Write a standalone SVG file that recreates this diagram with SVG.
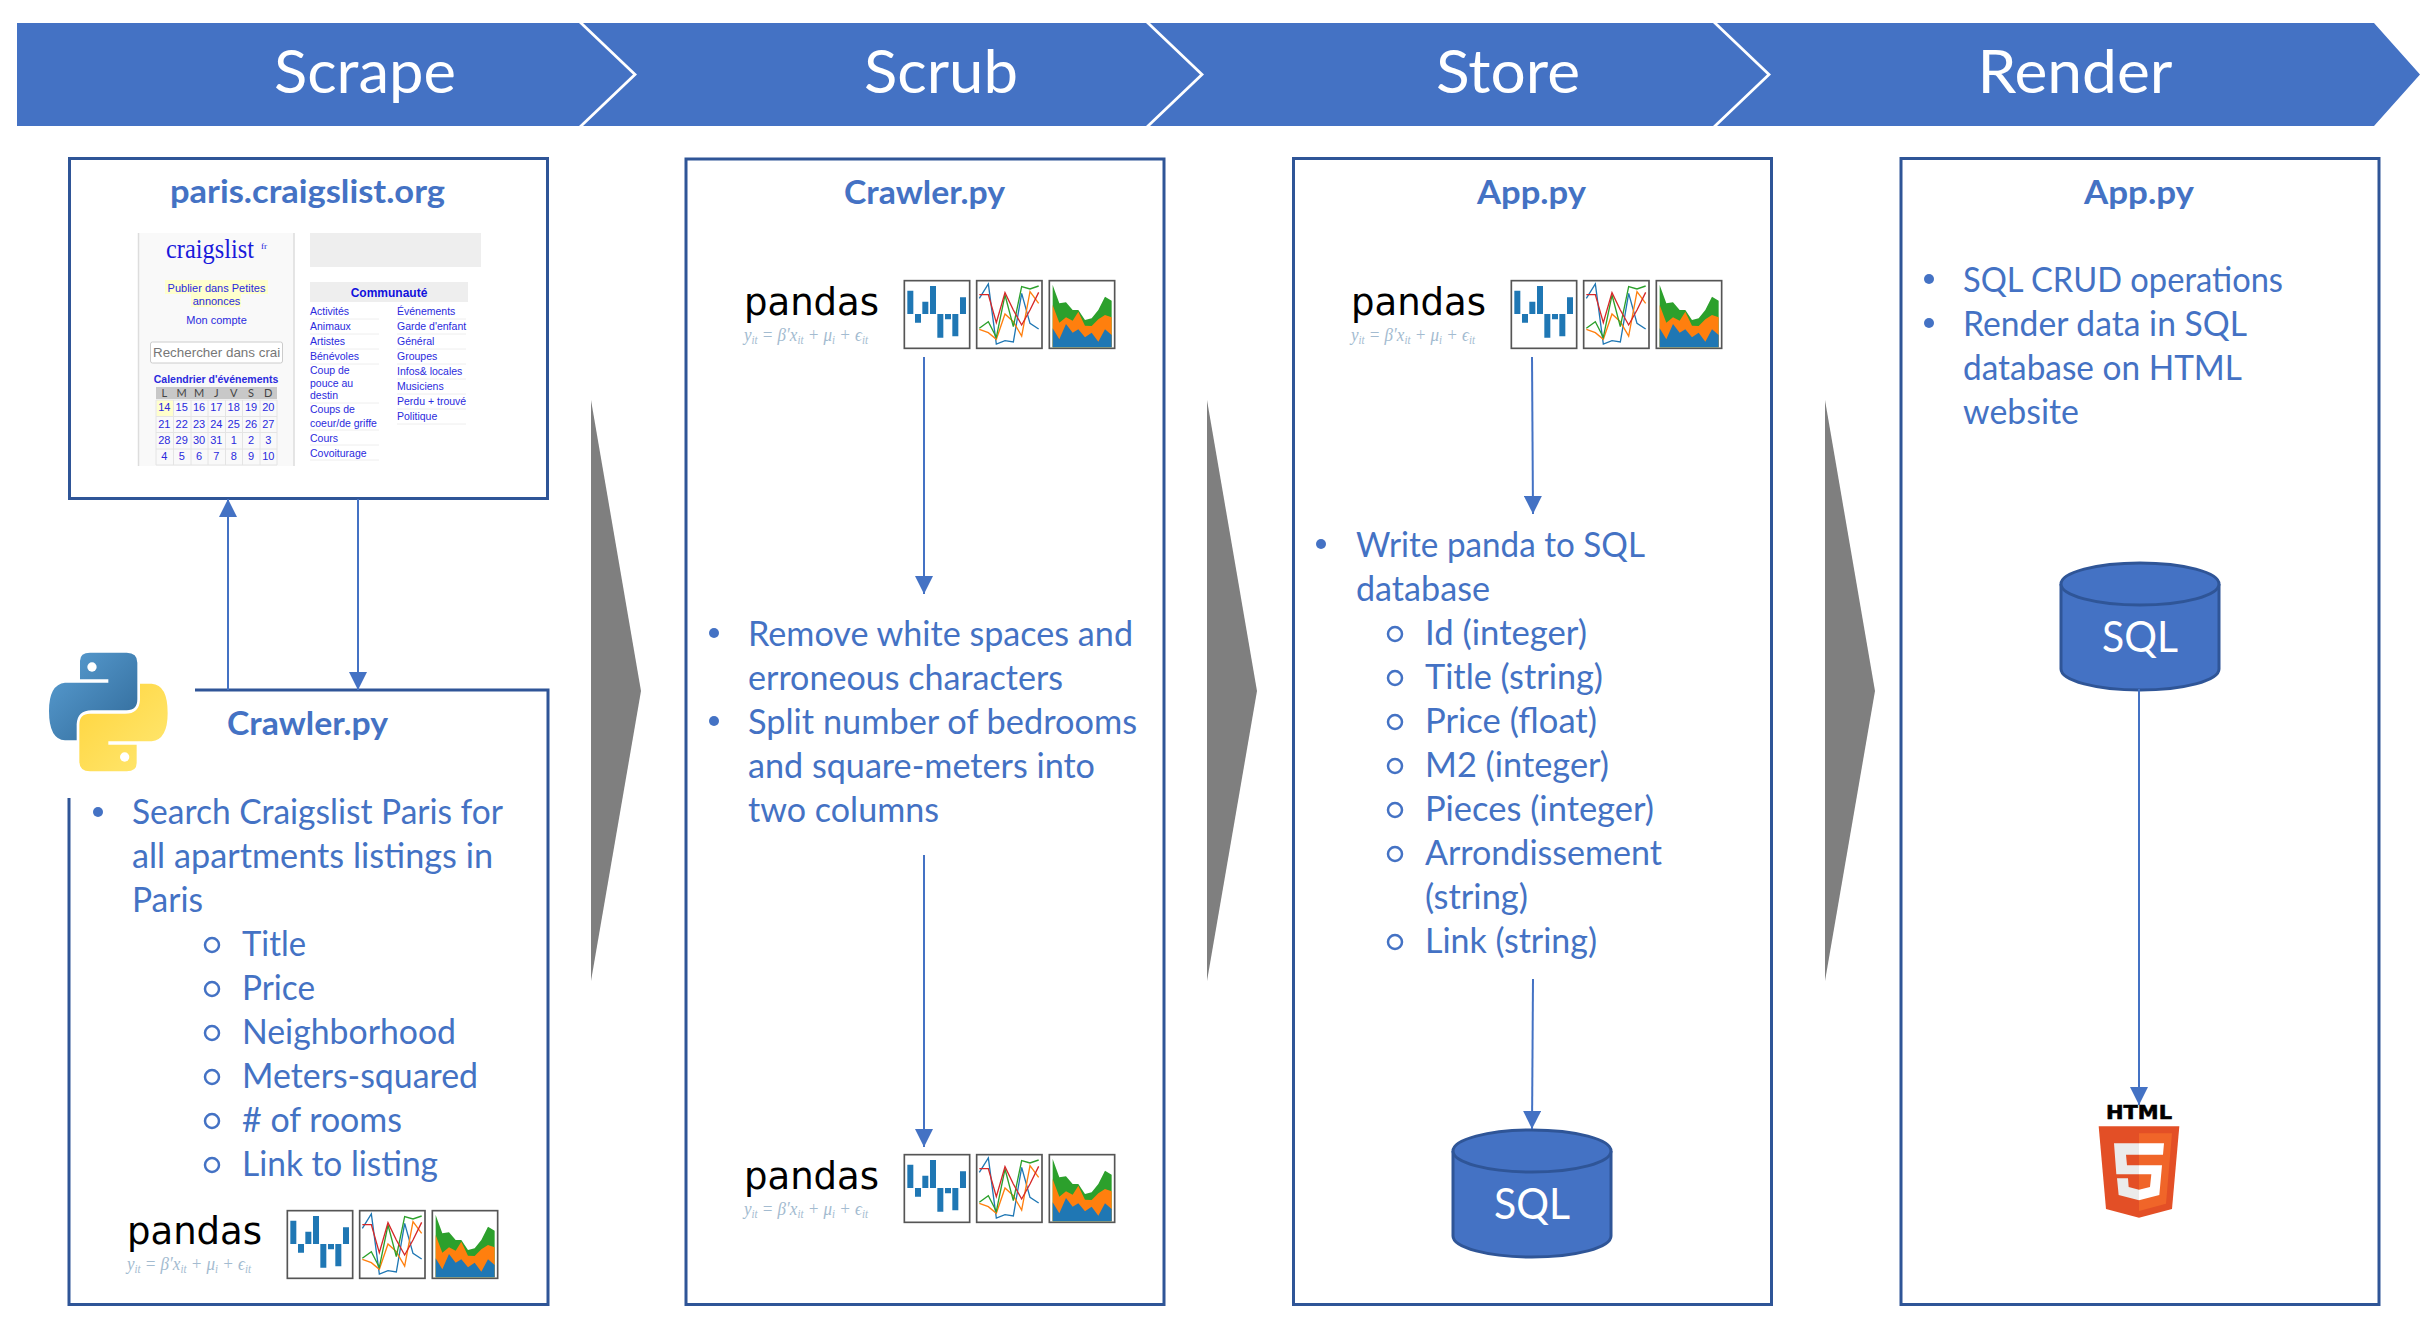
<svg xmlns="http://www.w3.org/2000/svg" xmlns:xlink="http://www.w3.org/1999/xlink" width="2433" height="1337" viewBox="0 0 2433 1337">
<style>
text{font-family:"Lato","Open Sans","Liberation Sans",sans-serif}
.hd{fill:#fff;font-size:60px;text-anchor:middle}
.box{fill:#fff;stroke:#2F5597;stroke-width:3}
.ln{fill:none;stroke:#2F5597;stroke-width:3}
.tt{fill:#4472C4;font-size:33px;font-weight:700}
.li{fill:#4472C4;font-size:34px}
.bu{fill:#4472C4}
.ci{fill:none;stroke:#4472C4;stroke-width:2.5}
.cn{fill:none;stroke:#4472C4;stroke-width:2}
.ch{fill:#4472C4}
.gt{fill:#7F7F7F}
.pd{fill:#000;font-family:"DejaVu Sans",sans-serif;font-size:37px}
.fm{fill:#A3BBD0;font-family:"Liberation Serif",serif;font-size:19px;font-style:italic}
.fm tspan.s{font-size:12px}
.cy{fill:#4472C4;stroke:#2F5597;stroke-width:3}
.sq{fill:#fff;font-size:43px;text-anchor:middle}
.cl{font-family:"Liberation Sans",sans-serif;fill:#2A2ADD;font-size:10.5px}
.cd{font-family:"Liberation Sans",sans-serif;fill:#2A2ADD;font-size:11px;text-anchor:middle}
.cr{fill:none;stroke:#E4E4E4;stroke-width:1}
.sq2{fill:none;stroke:#555;stroke-width:1.6}
</style>
<defs>
<marker id="ah" markerUnits="userSpaceOnUse" markerWidth="18" markerHeight="18" refX="18" refY="9" orient="auto"><path d="M0,0L18,9L0,18Z" fill="#4472C4"/></marker>
<linearGradient id="pyb" x1="0" y1="0" x2="1" y2="1"><stop offset="0" stop-color="#5A9FD4"/><stop offset="1" stop-color="#306998"/></linearGradient>
<linearGradient id="pyy" x1="0" y1="0" x2="1" y2="1"><stop offset="0" stop-color="#FFE873"/><stop offset="1" stop-color="#FFD43B"/></linearGradient>
<clipPath id="sc"><rect x="151" y="343" width="129" height="19"/></clipPath>
<g id="charts" transform="translate(720 260) scale(.33333)">
<rect class="sq2" style="stroke-width:5" x="553" y="62" width="196" height="203" fill="#fff"/>
<rect class="sq2" style="stroke-width:5" x="770" y="62" width="196" height="203" fill="#fff"/>
<rect class="sq2" style="stroke-width:5" x="988" y="62" width="196" height="203" fill="#fff"/>
<path fill="#1F77B4" d="M562,92h18v70h-18zM585,162h18v26h-18zM607,125h18v37h-18zM630,78h18v84h-18zM652,162h18v71h-18zM675,162h18v16h-18zM697,162h18v67h-18zM720,112h18v50h-18z"/>
<g fill="none" stroke-width="4">
<polyline stroke="#1F77B4" points="778,115 805,72 829,252 855,242 880,246 905,100 930,190 956,207"/>
<polyline stroke="#FF7F0E" points="778,208 805,218 829,238 855,162 880,185 905,228 930,95 956,130"/>
<polyline stroke="#2CA02C" points="778,205 805,185 829,232 855,105 880,200 905,80 930,87 956,78"/>
<polyline stroke="#D62728" points="778,104 805,104 829,188 855,98 880,150 905,195 930,150 956,97"/>
</g>
<polygon fill="#2CA02C" points="998,75 1018,130 1038,127 1058,150 1075,150 1095,180 1115,175 1135,150 1155,110 1175,122 1175,262 998,262"/>
<polygon fill="#FF7F0E" points="998,135 1018,188 1038,172 1058,182 1075,155 1095,197 1115,198 1135,178 1155,165 1175,172 1175,262 998,262"/>
<polygon fill="#1F77B4" points="998,205 1018,238 1038,192 1058,218 1075,208 1095,232 1115,218 1135,245 1155,208 1175,225 1175,262 998,262"/>
</g>
<g id="cyl">
<path class="cy" d="M-79,0V85A79,21 0 0 0 79,85V0"/>
<ellipse class="cy" cx="0" cy="0" rx="79" ry="21"/>
</g>
</defs>
<rect width="2433" height="1337" fill="#fff"/>

<g id="stage-scrape"><polygon class="ch" points="17,23 579,23 633,74.500 579,126 17,126"/><text class="hd" x="365" y="93" textLength="182" lengthAdjust="spacingAndGlyphs">Scrape</text></g>
<g id="stage-scrub"><polygon class="ch" points="583,23 1146,23 1200,74.500 1146,126 583,126 637,74.500"/><text class="hd" x="941" y="93" textLength="154" lengthAdjust="spacingAndGlyphs">Scrub</text></g>
<g id="stage-store"><polygon class="ch" points="1150,23 1713,23 1767,74.500 1713,126 1150,126 1204,74.500"/><text class="hd" x="1508" y="93" textLength="144" lengthAdjust="spacingAndGlyphs">Store</text></g>
<g id="stage-render"><polygon class="ch" points="1717,23 2374,23 2420,74.500 2374,126 1717,126 1771,74.500"/><text class="hd" x="2075" y="93" textLength="195" lengthAdjust="spacingAndGlyphs">Render</text></g>

<g id="gray-arrow-1"><polygon class="gt" points="591,400 641,691 591,981"/></g>
<g id="gray-arrow-2"><polygon class="gt" points="1207,400 1257,691 1207,981"/></g>
<g id="gray-arrow-3"><polygon class="gt" points="1825,400 1875,691 1825,981"/></g>

<g id="node-craigslist">
<rect class="box" x="69.500" y="158.500" width="478" height="340"/>
<text class="tt" x="170" y="203" textLength="275" lengthAdjust="spacingAndGlyphs">paris.craigslist.org</text>
<g id="craigslist-shot">
<rect x="138" y="233" width="156" height="233" fill="#F9F9F9"/>
<path d="M138.500,233V466M294,233V466" stroke="#DDD" stroke-width="1.500"/>
<text x="166" y="258" fill="#1A1ADB" font-size="27" textLength="88" lengthAdjust="spacingAndGlyphs" style="font-family:'Liberation Serif',serif">craigslist</text>
<text x="261" y="249" fill="#1A1ADB" font-size="9" style="font-family:'Liberation Serif',serif">fr</text>
<rect x="165" y="280" width="103" height="14" fill="#FFFFCC"/><rect x="191" y="294" width="50" height="13" fill="#FFFFCC"/>
<text class="cd" x="216.500" y="292">Publier dans Petites</text>
<text class="cd" x="216.500" y="305">annonces</text>
<text class="cd" x="216.500" y="324">Mon compte</text>
<rect x="150.500" y="342" width="132" height="21" rx="2" fill="#fff" stroke="#CCC"/>
<text x="153" y="357" fill="#777" font-size="13.400" clip-path="url(#sc)" style="font-family:'Liberation Sans',sans-serif">Rechercher dans craigslist</text>
<text class="cd" x="216" y="383" fill="#1111DD" style="font-size:10.500px;font-weight:700">Calendrier d'événements</text>
<rect x="156" y="387" width="121" height="12" fill="#C8C8C8"/>
<rect x="156.500" y="400" width="17" height="16" fill="#FFFFCC"/>
<path class="cr" d="M156,400H277M156,416.500H277M156,432.500H277M156,449H277M156,465H277M156,400V465M173.500,400V465M191,400V465M208,400V465M225.500,400V465M242.500,400V465M260,400V465M277,400V465"/>
<g class="cd"><text x="164.300" y="397" style="fill:#444">L</text><text x="181.700" y="397" style="fill:#444">M</text><text x="199" y="397" style="fill:#444">M</text><text x="216.300" y="397" style="fill:#444">J</text><text x="233.700" y="397" style="fill:#444">V</text><text x="251" y="397" style="fill:#444">S</text><text x="268.300" y="397" style="fill:#444">D</text></g>
<text class="cd" x="164.300" y="411">14</text><text class="cd" x="181.700" y="411">15</text><text class="cd" x="199" y="411">16</text><text class="cd" x="216.300" y="411">17</text><text class="cd" x="233.700" y="411">18</text><text class="cd" x="251" y="411">19</text><text class="cd" x="268.300" y="411">20</text>
<text class="cd" x="164.300" y="428">21</text><text class="cd" x="181.700" y="428">22</text><text class="cd" x="199" y="428">23</text><text class="cd" x="216.300" y="428">24</text><text class="cd" x="233.700" y="428">25</text><text class="cd" x="251" y="428">26</text><text class="cd" x="268.300" y="428">27</text>
<text class="cd" x="164.300" y="444">28</text><text class="cd" x="181.700" y="444">29</text><text class="cd" x="199" y="444">30</text><text class="cd" x="216.300" y="444">31</text><text class="cd" x="233.700" y="444">1</text><text class="cd" x="251" y="444">2</text><text class="cd" x="268.300" y="444">3</text>
<text class="cd" x="164.300" y="460">4</text><text class="cd" x="181.700" y="460">5</text><text class="cd" x="199" y="460">6</text><text class="cd" x="216.300" y="460">7</text><text class="cd" x="233.700" y="460">8</text><text class="cd" x="251" y="460">9</text><text class="cd" x="268.300" y="460">10</text>
<rect x="310" y="233" width="171" height="34" fill="#EEE"/>
<rect x="310" y="282" width="158" height="20" fill="#EEE"/>
<text x="389" y="297" fill="#1111DD" text-anchor="middle" style="font-family:'Liberation Sans',sans-serif;font-size:12px;font-weight:700">Communauté</text>
<path class="cr" style="stroke:#EEE" d="M310,319H379M310,334H379M310,349H379M310,364H379M310,403H379M310,430H379M310,445H379M310,460H379M397,319H466M397,334H466M397,349H466M397,364H466M397,379H466M397,394H466M397,409H466M397,424H466"/>
<text class="cl" x="310" y="315">Activités</text><text class="cl" x="310" y="330">Animaux</text><text class="cl" x="310" y="345">Artistes</text><text class="cl" x="310" y="360">Bénévoles</text><text class="cl" x="310" y="374">Coup de</text><text class="cl" x="310" y="387">pouce au</text><text class="cl" x="310" y="399">destin</text><text class="cl" x="310" y="413">Coups de</text><text class="cl" x="310" y="427">coeur/de griffe</text><text class="cl" x="310" y="442">Cours</text><text class="cl" x="310" y="457">Covoiturage</text>
<text class="cl" x="397" y="315">Événements</text><text class="cl" x="397" y="330">Garde d'enfant</text><text class="cl" x="397" y="345">Général</text><text class="cl" x="397" y="360">Groupes</text><text class="cl" x="397" y="375">Infos&amp; locales</text><text class="cl" x="397" y="390">Musiciens</text><text class="cl" x="397" y="405">Perdu + trouvé</text><text class="cl" x="397" y="420">Politique</text>
</g>
</g>

<g id="node-crawler">
<path class="ln" d="M195,690H548V1304.500H69V798"/>
<g id="python-logo" transform="translate(30 631) scale(.33333)">
<path fill="url(#pyb)" d="M150,90Q150,65 180,65H290Q322,65 322,95V205Q322,238 290,238H185Q142,238 140,280V328H105Q57,325 57,240Q57,160 105,155H235V145H150Z"/>
<circle cx="186" cy="108" r="14" fill="#fff"/>
<path fill="url(#pyy)" transform="rotate(180 235 243)" d="M150,90Q150,65 180,65H290Q322,65 322,95V205Q322,238 290,238H185Q142,238 140,280V328H105Q57,325 57,240Q57,160 105,155H235V145H150Z"/>
<circle cx="284" cy="378" r="14" fill="#fff"/>
</g>
<text class="tt" x="227" y="735" textLength="161" lengthAdjust="spacingAndGlyphs">Crawler.py</text>
<circle class="bu" cx="98" cy="812" r="5"/>
<text class="li" x="132" y="824" textLength="371" lengthAdjust="spacingAndGlyphs">Search Craigslist Paris for</text>
<text class="li" x="132" y="868" textLength="361" lengthAdjust="spacingAndGlyphs">all apartments listings in</text>
<text class="li" x="132" y="912" textLength="71" lengthAdjust="spacingAndGlyphs">Paris</text>
<circle class="ci" cx="212" cy="945" r="7"/><text class="li" x="242" y="956" textLength="64" lengthAdjust="spacingAndGlyphs">Title</text>
<circle class="ci" cx="212" cy="989" r="7"/><text class="li" x="242" y="1000" textLength="73" lengthAdjust="spacingAndGlyphs">Price</text>
<circle class="ci" cx="212" cy="1033" r="7"/><text class="li" x="242" y="1044" textLength="214" lengthAdjust="spacingAndGlyphs">Neighborhood</text>
<circle class="ci" cx="212" cy="1077" r="7"/><text class="li" x="242" y="1088" textLength="236" lengthAdjust="spacingAndGlyphs">Meters-squared</text>
<circle class="ci" cx="212" cy="1121" r="7"/><text class="li" x="242" y="1132" textLength="160" lengthAdjust="spacingAndGlyphs"># of rooms</text>
<circle class="ci" cx="212" cy="1165" r="7"/><text class="li" x="242" y="1176" textLength="196" lengthAdjust="spacingAndGlyphs">Link to listing</text>
<g id="pandas-1"><use xlink:href="#charts" href="#charts" transform="translate(-617 930)"/><text class="pd" x="127" y="1244" textLength="135">pandas</text><text class="fm" x="127" y="1270" textLength="124" lengthAdjust="spacingAndGlyphs">y<tspan class="s" dy="3">it</tspan><tspan dy="-3"> = β′x</tspan><tspan class="s" dy="3">it</tspan><tspan dy="-3"> + μ</tspan><tspan class="s" dy="3">i</tspan><tspan dy="-3"> + ϵ</tspan><tspan class="s" dy="3">it</tspan></text></g>
</g>

<g id="node-scrub">
<rect class="box" x="686" y="159" width="478" height="1145.500"/>
<text class="tt" x="844" y="204" textLength="161" lengthAdjust="spacingAndGlyphs">Crawler.py</text>
<g id="pandas-2"><use xlink:href="#charts" href="#charts"/><text class="pd" x="744" y="315" textLength="135">pandas</text><text class="fm" x="744" y="341" textLength="124" lengthAdjust="spacingAndGlyphs">y<tspan class="s" dy="3">it</tspan><tspan dy="-3"> = β′x</tspan><tspan class="s" dy="3">it</tspan><tspan dy="-3"> + μ</tspan><tspan class="s" dy="3">i</tspan><tspan dy="-3"> + ϵ</tspan><tspan class="s" dy="3">it</tspan></text></g>
<circle class="bu" cx="714" cy="633" r="5"/>
<text class="li" x="748" y="646" textLength="385" lengthAdjust="spacingAndGlyphs">Remove white spaces and</text>
<text class="li" x="748" y="690" textLength="315" lengthAdjust="spacingAndGlyphs">erroneous characters</text>
<circle class="bu" cx="714" cy="721" r="5"/>
<text class="li" x="748" y="734" textLength="389" lengthAdjust="spacingAndGlyphs">Split number of bedrooms</text>
<text class="li" x="748" y="778" textLength="347" lengthAdjust="spacingAndGlyphs">and square-meters into</text>
<text class="li" x="748" y="822" textLength="191" lengthAdjust="spacingAndGlyphs">two columns</text>
<g id="pandas-3"><use xlink:href="#charts" href="#charts" transform="translate(0 874)"/><text class="pd" x="744" y="1189" textLength="135">pandas</text><text class="fm" x="744" y="1215" textLength="124" lengthAdjust="spacingAndGlyphs">y<tspan class="s" dy="3">it</tspan><tspan dy="-3"> = β′x</tspan><tspan class="s" dy="3">it</tspan><tspan dy="-3"> + μ</tspan><tspan class="s" dy="3">i</tspan><tspan dy="-3"> + ϵ</tspan><tspan class="s" dy="3">it</tspan></text></g>
</g>

<g id="node-store">
<rect class="box" x="1293.500" y="158.500" width="478" height="1146"/>
<text class="tt" x="1477" y="204" textLength="109" lengthAdjust="spacingAndGlyphs">App.py</text>
<g id="pandas-4"><use xlink:href="#charts" href="#charts" transform="translate(607 0)"/><text class="pd" x="1351" y="315" textLength="135">pandas</text><text class="fm" x="1351" y="341" textLength="124" lengthAdjust="spacingAndGlyphs">y<tspan class="s" dy="3">it</tspan><tspan dy="-3"> = β′x</tspan><tspan class="s" dy="3">it</tspan><tspan dy="-3"> + μ</tspan><tspan class="s" dy="3">i</tspan><tspan dy="-3"> + ϵ</tspan><tspan class="s" dy="3">it</tspan></text></g>
<circle class="bu" cx="1321" cy="544" r="5"/>
<text class="li" x="1356" y="557" textLength="289" lengthAdjust="spacingAndGlyphs">Write panda to SQL</text>
<text class="li" x="1356" y="601" textLength="134" lengthAdjust="spacingAndGlyphs">database</text>
<circle class="ci" cx="1395" cy="634" r="7"/><text class="li" x="1425" y="645" textLength="162" lengthAdjust="spacingAndGlyphs">Id (integer)</text>
<circle class="ci" cx="1395" cy="678" r="7"/><text class="li" x="1425" y="689" textLength="178" lengthAdjust="spacingAndGlyphs">Title (string)</text>
<circle class="ci" cx="1395" cy="722" r="7"/><text class="li" x="1425" y="733" textLength="172" lengthAdjust="spacingAndGlyphs">Price (float)</text>
<circle class="ci" cx="1395" cy="766" r="7"/><text class="li" x="1425" y="777" textLength="184" lengthAdjust="spacingAndGlyphs">M2 (integer)</text>
<circle class="ci" cx="1395" cy="810" r="7"/><text class="li" x="1425" y="821" textLength="229" lengthAdjust="spacingAndGlyphs">Pieces (integer)</text>
<circle class="ci" cx="1395" cy="854" r="7"/><text class="li" x="1425" y="865" textLength="237" lengthAdjust="spacingAndGlyphs">Arrondissement</text>
<text class="li" x="1425" y="909" textLength="103" lengthAdjust="spacingAndGlyphs">(string)</text>
<circle class="ci" cx="1395" cy="942" r="7"/><text class="li" x="1425" y="953" textLength="172" lengthAdjust="spacingAndGlyphs">Link (string)</text>
<g id="sql-1"><use xlink:href="#cyl" href="#cyl" transform="translate(1532 1151)"/><text class="sq" x="1532" y="1219" textLength="76" lengthAdjust="spacingAndGlyphs">SQL</text></g>
</g>

<g id="node-render">
<rect class="box" x="1901" y="158.500" width="478" height="1146"/>
<text class="tt" x="2084" y="204" textLength="110" lengthAdjust="spacingAndGlyphs">App.py</text>
<circle class="bu" cx="1929" cy="279" r="5"/>
<text class="li" x="1963" y="292" textLength="320" lengthAdjust="spacingAndGlyphs">SQL CRUD operations</text>
<circle class="bu" cx="1929" cy="323" r="5"/>
<text class="li" x="1963" y="336" textLength="284" lengthAdjust="spacingAndGlyphs">Render data in SQL</text>
<text class="li" x="1963" y="380" textLength="279" lengthAdjust="spacingAndGlyphs">database on HTML</text>
<text class="li" x="1963" y="424" textLength="116" lengthAdjust="spacingAndGlyphs">website</text>
<g id="sql-2"><use xlink:href="#cyl" href="#cyl" transform="translate(2140 584)"/><text class="sq" x="2140" y="652" textLength="76" lengthAdjust="spacingAndGlyphs">SQL</text></g>
<g id="html5">
<text x="2106" y="1119" fill="#000" stroke="#000" stroke-width=".6" textLength="66" lengthAdjust="spacingAndGlyphs" style="font-family:'DejaVu Sans',sans-serif;font-size:20px;font-weight:700">HTML</text>
<g transform="translate(2040 1081) scale(.33333)">
<polygon fill="#E34F26" points="176,136 418,136 396,384 297,410 198,384"/>
<polygon fill="#F06529" points="297,157 396,157 378,368 297,390"/>
<path fill="#EBEBEB" d="M222,187H297V221H258L261,253H297V280H229ZM231,292H264L266,318L297,326V358L236,342Z"/>
<path fill="#fff" d="M297,187H372L369,221H297ZM297,253H366L358,342L297,358V326L330,318L334,280H297Z"/>
</g>
</g>
</g>

<g id="connectors">
<line class="cn" x1="228" y1="690" x2="228" y2="499" marker-end="url(#ah)"/>
<line class="cn" x1="358" y1="499" x2="358" y2="690" marker-end="url(#ah)"/>
<line class="cn" x1="924" y1="357" x2="924" y2="594" marker-end="url(#ah)"/>
<line class="cn" x1="924" y1="855" x2="924" y2="1147" marker-end="url(#ah)"/>
<line class="cn" x1="1532" y1="357" x2="1533" y2="514" marker-end="url(#ah)"/>
<line class="cn" x1="1533" y1="979" x2="1532" y2="1129" marker-end="url(#ah)"/>
<line class="cn" x1="2139" y1="689" x2="2139" y2="1105" marker-end="url(#ah)"/>
</g>
</svg>
